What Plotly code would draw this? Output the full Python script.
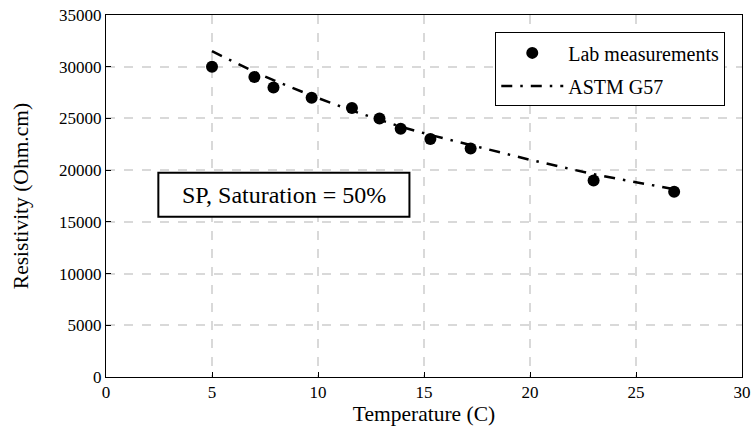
import plotly.graph_objects as go

# Lab measurements
lab_temp = [5.0, 7.0, 7.9, 9.7, 11.6, 12.9, 13.9, 15.3, 17.2, 23.0, 26.8]
lab_res = [30000, 29000, 28000, 27000, 26000, 25000, 24000, 23000, 22100, 19000, 17900]

# ASTM G57 curve
astm_temp = [5.0, 7.0, 7.9, 9.7, 11.6, 12.9, 13.9, 15.3, 17.2, 20.0, 23.0, 26.8]
astm_res = [31500, 29500, 28700, 27200, 25750, 24850, 24200, 23400, 22400, 21000, 19600, 18150]

x_ticks = [0, 5, 10, 15, 20, 25, 30]
y_ticks = [0, 5000, 10000, 15000, 20000, 25000, 30000, 35000]

FONT = "Liberation Serif, Times New Roman, serif"

fig = go.Figure()
fig.add_trace(go.Scatter(
    x=lab_temp, y=lab_res, mode="markers", name="Lab measurements",
    marker=dict(color="black", size=12), legendgroup="a",
))
fig.add_trace(go.Scatter(
    x=astm_temp, y=astm_res, mode="lines", name="ASTM G57",
    line=dict(color="black", width=2.5, dash="11px,8px,2.5px,8px"),
    legendgroup="b",
))

axis_common = dict(
    showline=True, linecolor="black", linewidth=1, mirror=True,
    showgrid=True, gridcolor="#d9d9d9", gridwidth=1.5, griddash="dash",
    ticks="inside", ticklen=5, tickcolor="black",
    tickfont=dict(family=FONT, size=17, color="black"),
    zeroline=False,
)

fig.update_xaxes(
    range=[0, 30], tickvals=x_ticks,
    title=dict(text="Temperature (C)", font=dict(family=FONT, size=21.5, color="black"), standoff=0),
    **axis_common,
)
fig.update_yaxes(
    range=[0, 35000], tickvals=y_ticks, tickformat="d",
    title=dict(text="Resistivity (Ohm.cm)", font=dict(family=FONT, size=21.5, color="black"), standoff=24),
    **axis_common,
)

fig.add_shape(type="rect", xref="paper", yref="paper",
              x0=0.0823, x1=0.4771, y0=0.4424, y1=0.564,
              line=dict(color="black", width=2), fillcolor="white", layer="above")
fig.add_annotation(xref="paper", yref="paper", x=0.2797, y=0.5032,
                   xanchor="center", yanchor="middle",
                   text="SP, Saturation = 50%", showarrow=False,
                   font=dict(family=FONT, size=24, color="black"))

fig.update_layout(
    width=753, height=443,
    margin=dict(l=106, r=11.3, t=15, b=66.3, autoexpand=False),
    paper_bgcolor="white", plot_bgcolor="white",
    font=dict(family=FONT, color="black"),
    hovermode=False,
    legend=dict(
        x=0.9737, y=0.952, xanchor="right", yanchor="top",
        bordercolor="black", borderwidth=1, bgcolor="white",
        font=dict(family=FONT, size=20, color="black"),
        traceorder="grouped", tracegroupgap=4, itemwidth=62,
    ),
)

fig.write_html("out.html", config={"displayModeBar": False},
               post_script="document.body.style.margin='0';")
